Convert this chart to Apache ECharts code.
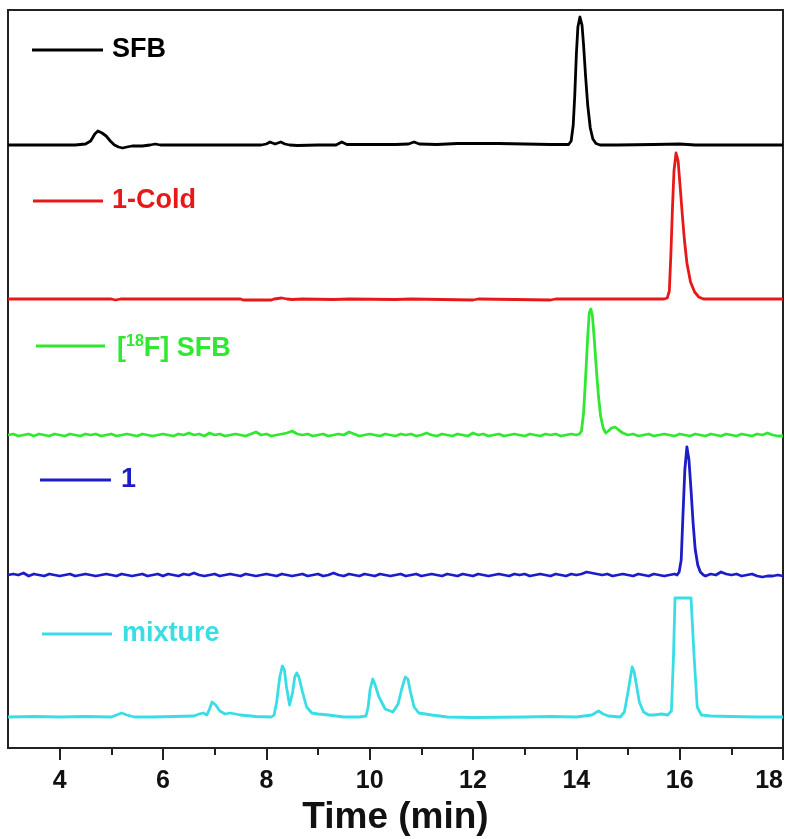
<!DOCTYPE html>
<html>
<head>
<meta charset="utf-8">
<script src="https://cdn.jsdelivr.net/npm/echarts@6/dist/echarts.min.js"></script>
<style>html,body{margin:0;padding:0;background:#fff;}#c{width:791px;height:839px;}</style>
</head>
<body>
<div id="c"></div>
<script>
// ---- tick labels ----
const majorTicks = [4, 6, 8, 10, 12, 14, 16, 18];
const minorTicks = [5, 7, 9, 11, 13, 15, 17];

// ---- trace names / vertical offsets (stack offsets, intensity units) ----
const names = ['SFB', '1-Cold', '[18F] SFB', '1', 'mixture'];
const offsets = [603, 449, 313, 173, 31];

// ---- SFB (black) [time, intensity] ----
const sfb = [[3.0,0],[4.3,0],[4.5,1],[4.6,4],[4.68,11],[4.74,14],[4.82,12],[4.9,9],[4.98,4],[5.06,0],[5.14,-2],[5.22,-3],[5.3,-2],[5.4,-1],[5.6,-1],[5.75,0],[5.85,1],[5.95,0],[6.5,0],[7.0,0],[7.5,0],[7.9,0],[8.0,1],[8.07,3],[8.17,1],[8.28,3],[8.36,1],[8.45,0],[8.6,-0.5],[9.0,0],[9.35,0],[9.46,3],[9.56,0.5],[10.0,0.5],[10.5,0.5],[10.75,1],[10.86,3],[10.96,1],[11.3,0.5],[11.7,1.5],[12.5,1.5],[13.0,1],[13.5,0.5],[13.85,0.5],[13.9,4],[13.94,20],[13.97,50],[14.0,90],[14.03,118],[14.07,128],[14.11,120],[14.14,100],[14.18,68],[14.22,40],[14.27,17],[14.32,6],[14.38,1.5],[14.46,0],[14.8,0],[15.5,0.5],[16.0,1],[16.3,0],[17,0],[18,0]];

// ---- 1-Cold (red) ----
const cold = [[3.0,0],[5.0,0],[5.08,-1],[5.18,0],[6.0,0],[7.5,0],[7.55,-1],[8.1,-1],[8.15,0],[8.3,1],[8.4,0],[8.5,-0.5],[8.7,0],[9.3,-0.5],[9.6,0],[10.5,-0.5],[10.8,0],[12.0,-1],[12.1,0],[13.5,-1],[13.6,0],[15.7,0],[15.76,1],[15.8,8],[15.83,45],[15.86,90],[15.89,128],[15.93,146],[15.97,138],[16.01,112],[16.05,85],[16.09,60],[16.14,36],[16.21,17],[16.29,7],[16.37,2],[16.46,0],[17,0],[18,0]];

// ---- [18F] SFB (green): baseline read every 0.1 min from 3.0, plus peak ----
const greenBaseStart = 3.0, greenBaseStep = 0.1;
const greenBase = [0,1,-1,0,1,-1,1,0,-1,1, 0,-1,1,0,-1,1,0,1,-1,0, 1,-1,0,1,0,-1,1,0,-1,0, 1,0,-1,1,0,2,0,1,-1,2, 0,1,-1,0,1,0,-1,1,3,0, 1,-1,0,1,2,4,1,0,1,-1, 0,1,-1,0,1,0,3,1,-1,0, 1,0,-1,1,0,-1,1,0,1,-1, 0,2,0,-1,1,0,-1,1,0,-1, 2,0,1,-1,0,1,-1,0,1,0, -1,1,0,-1,1,0,1,-1,0,1, 0,0,0,0,0,0,0,0,0,0, 0,1,-1,0,1,-1,0,1,0,-1, 1,0,-1,1,0,-1,1,0,-1,1, 0,-1,1,0,-1,1,0,2,0,-1, -1];
const greenPeak = [[14.0,0],[14.06,1],[14.1,4],[14.14,22],[14.18,58],[14.22,98],[14.25,122],[14.28,126],[14.31,120],[14.35,94],[14.39,64],[14.43,38],[14.47,19],[14.52,7],[14.57,2],[14.62,4],[14.68,7],[14.75,8],[14.82,5],[14.9,2],[14.95,1]];

// ---- 1 (blue): baseline read every 0.1 min from 3.0, plus peak ----
const blueBaseStart = 3.0, blueBaseStep = 0.1;
const blueBase = [0,1,0,2,-1,1,0,-1,1,0, -1,0,1,-1,0,1,0,-1,0,1, 0,-1,1,0,-1,0,1,-1,0,1, -1,1,0,-1,1,0,2,0,-1,0, 1,-1,0,1,0,-1,1,0,-1,0, 1,0,-1,1,0,-1,0,1,-1,0, 1,-1,0,2,0,-1,1,0,-1,1, 0,-1,1,0,-1,0,1,-1,0,1, -1,0,1,0,-1,1,0,-1,1,0, -1,1,0,-1,0,1,0,-1,1,0, 1,-1,0,1,0,-1,1,0,-1,1, 0,1,3,2,1,0,1,-1,0,1, 0,-1,1,0,-1,1,0,-1,0,1, 0,0,0,0,0,-1,1,0,3,1, 0,1,-1,0,1,-1,-2,-1,-1,0, -1];
const bluePeak = [[15.95,0],[15.99,3],[16.03,15],[16.06,55],[16.1,105],[16.14,128],[16.18,115],[16.22,85],[16.26,52],[16.3,26],[16.35,10],[16.4,3],[16.46,0]];

// ---- mixture (cyan) ----
const mixture = [[3.0,0],[3.5,0.5],[4.0,0],[4.5,0.5],[5.0,0],[5.1,2],[5.2,4],[5.3,2],[5.45,0],[5.8,0],[6.2,0.5],[6.6,1],[6.7,3],[6.78,4],[6.85,2],[6.9,8],[6.95,15],[7.02,12],[7.1,6],[7.2,3],[7.3,4],[7.5,2],[7.8,0.5],[8.1,0],[8.15,2],[8.2,15],[8.26,40],[8.31,51],[8.35,47],[8.39,30],[8.45,12],[8.51,25],[8.55,40],[8.59,44],[8.63,40],[8.7,25],[8.78,10],[8.88,4],[9.0,3],[9.2,2],[9.5,0],[9.8,0],[9.93,1],[9.97,10],[10.01,28],[10.06,38],[10.1,33],[10.18,20],[10.3,8],[10.45,5],[10.55,13],[10.62,28],[10.69,40],[10.74,38],[10.79,25],[10.86,10],[10.95,4],[11.2,2],[11.5,0],[12.0,-0.5],[13.0,0],[13.5,0.5],[14.0,0],[14.3,2],[14.43,6],[14.52,3],[14.62,1],[14.85,0],[14.93,5],[15.0,25],[15.08,50],[15.12,45],[15.17,30],[15.22,15],[15.3,5],[15.4,2],[15.5,2],[15.65,3],[15.77,2],[15.84,6],[15.88,60],[15.91,119],[16.22,119],[16.28,60],[16.34,10],[16.42,2],[16.6,1],[17.0,0.5],[17.5,0],[18.0,0]];

const colors = ['#000000', '#e81818', '#30e830', '#1c1cc8', '#38dde6'];

function mergeBase(start, step, base, peak) {
  const lo = peak[0][0], hi = peak[peak.length - 1][0];
  const pts = [];
  base.forEach((v, i) => {
    const t = +(start + i * step).toFixed(3);
    if (t < lo - 0.001 || t > hi + 0.001) pts.push([t, v]);
  });
  return pts.concat(peak).sort((a, b) => a[0] - b[0]);
}

const traces = [
  sfb,
  cold,
  mergeBase(greenBaseStart, greenBaseStep, greenBase, greenPeak),
  mergeBase(blueBaseStart, blueBaseStep, blueBase, bluePeak),
  mixture
];

const series = traces.map((tr, k) => ({
  name: names[k],
  type: 'line',
  showSymbol: false,
  symbol: 'none',
  animation: false,
  lineStyle: { color: colors[k], width: 2.8, join: 'round' },
  data: tr.map(p => [p[0], p[1] + offsets[k]])
}));

const FONT = '"Liberation Sans", Arial, Helvetica, sans-serif';

// legend entries drawn as line + text
const legendPos = [
  { x1: 32, x2: 103, y: 50, tx: 112 },
  { x1: 33, x2: 103, y: 201, tx: 112 },
  { x1: 36, x2: 105, y: 346, tx: 117 },
  { x1: 40, x2: 111, y: 480, tx: 121 },
  { x1: 42, x2: 112, y: 634, tx: 122 }
];
const graphic = [];
legendPos.forEach((p, k) => {
  graphic.push({ type: 'line', shape: { x1: p.x1, y1: p.y, x2: p.x2, y2: p.y }, style: { stroke: colors[k], lineWidth: 3 } });
  if (k === 2) {
    graphic.push({ type: 'text', x: p.tx, y: p.y + 3, style: {
      text: '{a|[}{s|18}{a|F] SFB}', verticalAlign: 'middle',
      rich: {
        a: { fontSize: 27, fontWeight: 'bold', fontFamily: FONT, fill: colors[k], lineHeight: 30 },
        s: { fontSize: 16, fontWeight: 'bold', fontFamily: FONT, fill: colors[k], verticalAlign: 'top', lineHeight: 30 }
      }
    }});
  } else {
    graphic.push({ type: 'text', x: p.tx, y: p.y, style: { text: names[k], fontSize: 27, fontWeight: 'bold', fontFamily: FONT, fill: colors[k], verticalAlign: 'middle' } });
  }
});

const chart = echarts.init(document.getElementById('c'), null, { renderer: 'canvas' });
chart.setOption({
  animation: false,
  backgroundColor: '#fff',
  grid: { left: 8, right: 8, top: 10, bottom: 91, show: true, borderColor: '#222', borderWidth: 2, backgroundColor: 'transparent', containLabel: false, outerBoundsMode: 'none' },
  xAxis: [{
    type: 'value', min: 3, max: 18,
    axisLine: { show: true, onZero: false, lineStyle: { color: '#222', width: 2 } },
    axisTick: { show: true, customValues: majorTicks, length: 12, lineStyle: { color: '#222', width: 2 } },
    axisLabel: { customValues: majorTicks, fontSize: 25, fontWeight: 'bold', fontFamily: FONT, color: '#111', margin: 21, alignMaxLabel: 'right' },
    splitLine: { show: false },
    name: 'Time (min)', nameLocation: 'middle', nameGap: 50,
    nameTextStyle: { fontSize: 37, fontWeight: 'bold', fontFamily: FONT, color: '#111' }
  }, {
    type: 'value', min: 3, max: 18, position: 'bottom',
    axisLine: { show: false },
    axisTick: { show: true, customValues: minorTicks, length: 7, lineStyle: { color: '#222', width: 2 } },
    axisLabel: { show: false },
    splitLine: { show: false }
  }],
  yAxis: { type: 'value', min: 0, max: 738, show: false, splitLine: { show: false } },
  series: series,
  graphic: graphic
});
</script>
</body>
</html>
